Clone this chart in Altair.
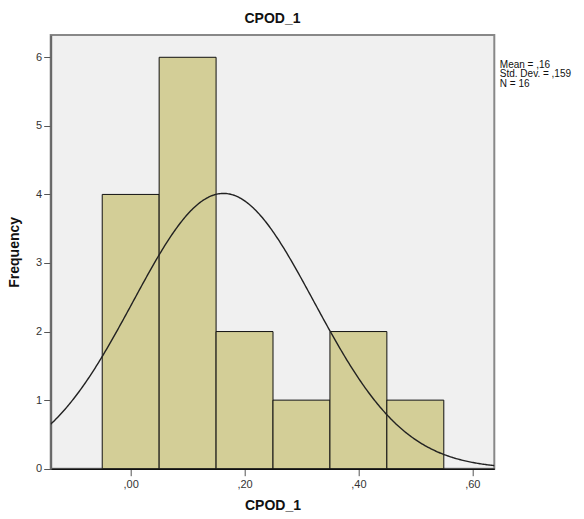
import altair as alt
import pandas as pd

# Histogram data (bins of width 0.1)
bin_start = [-0.05, 0.05, 0.15, 0.25, 0.35, 0.45]
bin_end = [0.05, 0.15, 0.25, 0.35, 0.45, 0.55]
counts = [4, 6, 2, 1, 2, 1]

# Summary statistics shown in the chart
mean_val = 0.163
sd_val = 0.159
n_val = 16
bin_width = 0.1
legend_lines = ["Mean = ,16", "Std. Dev. = ,159", "N = 16"]

x_ticks = [0.0, 0.2, 0.4, 0.6]
y_ticks = [0, 1, 2, 3, 4, 5, 6]
x_domain = [-0.1405, 0.6387]
y_domain = [0, 6.325]

FONT = "Liberation Sans"
W, H = 443.6, 433.7

bars_df = pd.DataFrame({"start": bin_start, "end": bin_end, "count": counts})
one_row = pd.DataFrame({"k": [0]})

xscale = alt.Scale(domain=x_domain, nice=False, zero=False)
yscale = alt.Scale(domain=y_domain, nice=False, zero=False)

xaxis = alt.Axis(
    values=x_ticks, title="CPOD_1", grid=False,
    labelExpr="replace(format(datum.value, '.2f'), '0.', ',')",
    labelFont=FONT, labelFontSize=11, labelColor="#333333", labelPadding=3,
    tickSize=7, tickColor="#555555", domainColor="#111111", domainWidth=1.5,
    titleFont=FONT, titleFontSize=14, titleFontWeight="bold", titleColor="#111111",
    titlePadding=9,
)
yaxis = alt.Axis(
    values=y_ticks, title="Frequency", grid=False, format="d",
    labelFont=FONT, labelFontSize=11, labelColor="#333333", labelPadding=2,
    tickSize=7, tickColor="#555555", domainColor="#666666", domainWidth=2,
    titleFont=FONT, titleFontSize=14, titleFontWeight="bold", titleColor="#111111",
    titlePadding=14,
)

bars = alt.Chart(bars_df).mark_rect(
    fill="#D3CE97", stroke="#111111", strokeWidth=1
).encode(
    x=alt.X("start:Q", scale=xscale, axis=xaxis),
    x2="end:Q",
    y=alt.Y("count:Q", scale=yscale, axis=yaxis),
    y2=alt.datum(0),
)

curve = alt.Chart(
    alt.sequence(start=x_domain[0], stop=x_domain[1] + 0.001, step=0.002, as_="x")
).transform_calculate(
    y=f"{n_val} * {bin_width} / ({sd_val} * sqrt(2 * PI)) * exp(-0.5 * pow((datum.x - {mean_val}) / {sd_val}, 2))"
).mark_line(color="#222222", strokeWidth=1.4, clip=True).encode(
    x=alt.X("x:Q", scale=xscale),
    y=alt.Y("y:Q", scale=yscale),
)

legend = alt.Chart(one_row).mark_text(
    align="left", baseline="middle", font=FONT, fontSize=10, color="#111111",
    lineHeight=9.6,
).encode(
    x=alt.value(W + 5.5),
    y=alt.value(29.5),
    text=alt.value(legend_lines),
)

chart = alt.layer(bars, curve, legend).properties(
    width=W, height=H,
    autosize=alt.AutoSizeParams(type="none"),
    padding={"left": 50.7, "top": 35, "right": 584 - 50.7 - W, "bottom": 519 - 35 - H},
    title=alt.TitleParams(
        "CPOD_1", font=FONT, fontSize=14, fontWeight="bold", color="#111111",
        anchor="middle", offset=9,
    ),
    background="white",
).configure_view(
    fill="#F0F0F0", stroke="#888888", strokeWidth=2
)

chart.save("out.html", embed_options={"renderer": "svg", "actions": False})
